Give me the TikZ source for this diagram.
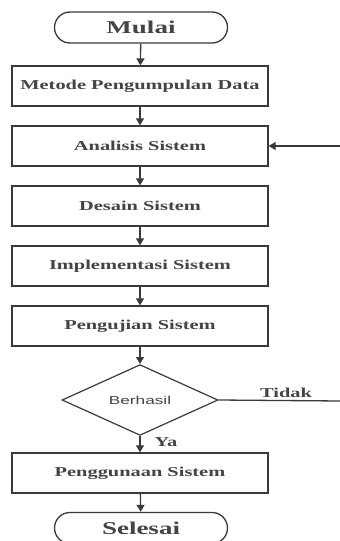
\documentclass[tikz,border=0pt]{standalone}
\usepackage{fontspec}
\newfontfamily\dserif[FakeStretch=1.5]{Liberation Serif}
\newfontfamily\dsans[FakeStretch=1.5]{Liberation Sans}
\usetikzlibrary{arrows.meta,shapes.geometric,shapes.misc}
\definecolor{ln}{HTML}{3A3A3A}
\definecolor{tx}{HTML}{444444}
\tikzset{
  procbox/.style={draw=ln, line width=1.3pt, minimum width=256pt, minimum height=40pt, inner sep=0pt,
    text=tx, font=\dserif\bfseries\fontsize{13.6}{15}\selectfont},
  termbox/.style={draw=ln, line width=1.3pt, rounded rectangle, minimum width=173pt, minimum height=31pt, inner sep=0pt,
    text=tx, font=\dserif\bfseries\fontsize{18}{20}\selectfont},
  decbox/.style={draw=ln, line width=1.2pt, diamond, minimum width=156pt, minimum height=60pt, inner sep=0pt,
    text=tx, font=\dsans\fontsize{11.5}{13}\selectfont},
  conn/.style={draw=ln, line width=1.3pt, -{Triangle[width=8pt,length=7pt]}},
  plain/.style={draw=ln, line width=1.3pt},
  lbl/.style={text=tx, font=\dserif\bfseries\fontsize{13.6}{15}\selectfont, inner sep=0pt}
}
\begin{document}
\begin{tikzpicture}[x=1pt,y=-1pt]
\useasboundingbox[fill=white] (0,0) rectangle (340,541);
\node[termbox] (mulai) at (141,27.5) {Mulai};
\node[procbox] (metode) at (140,86) {Metode Pengumpulan Data};
\node[procbox] (analisis) at (140,146) {Analisis Sistem};
\node[procbox] (desain) at (140,206) {Desain Sistem};
\node[procbox] (impl) at (140,266) {Implementasi Sistem};
\node[procbox] (uji) at (140,326) {Pengujian Sistem};
\node[decbox] (berhasil) at (140,400) {Berhasil};
\node[procbox] (guna) at (140,473) {Penggunaan Sistem};
\node[termbox] (selesai) at (141,528) {Selesai};
\coordinate (loopin) at (341,146);
\coordinate (tidakend) at (341,401);
\draw[conn] (mulai) -- (metode);
\draw[conn] (metode) -- (analisis);
\draw[conn] (analisis) -- (desain);
\draw[conn] (desain) -- (impl);
\draw[conn] (impl) -- (uji);
\draw[conn] (uji) -- (berhasil);
\draw[conn] (berhasil) -- node[lbl, right=14pt, pos=0.4] (ya) {Ya} (guna);
\draw[conn] (guna) -- (selesai);
\draw[plain] (berhasil.east) -- (tidakend);
\node[lbl] (tidak) at (286,393) {Tidak};
\draw[conn] (loopin) -- (analisis.east);
\end{tikzpicture}
\end{document}
